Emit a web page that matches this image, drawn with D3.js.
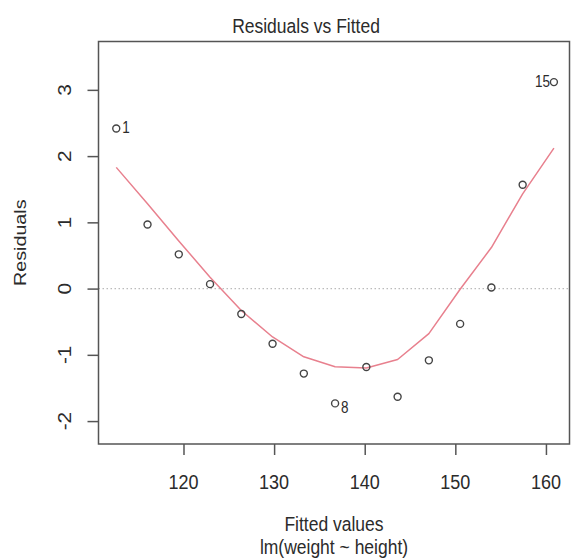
<!DOCTYPE html>
<html>
<head>
<meta charset="utf-8">
<script src="https://cdn.jsdelivr.net/npm/d3@7"></script>
<style>
  body { margin: 0; background: #fff; }
  text { font-family: "Liberation Sans", Arial, sans-serif; fill: #2b2b2b; }
</style>
</head>
<body>
<svg id="chart" width="571" height="560"></svg>
<script>
// women data: lm(weight ~ height)
const fitted = [112.58, 116.03, 119.48, 122.93, 126.38, 129.83, 133.28, 136.73,
                140.18, 143.63, 147.08, 150.53, 153.98, 157.43, 160.88];
const residuals = [2.417, 0.967, 0.517, 0.067, -0.383, -0.833, -1.283, -1.733,
                   -1.183, -1.633, -1.083, -0.533, 0.017, 1.567, 3.117];
// smoother
const smooth = [1.83, 1.28, 0.72, 0.17, -0.33, -0.73, -1.03, -1.18,
                -1.20, -1.07, -0.68, -0.01, 0.62, 1.43, 2.12];
const labelled = [0, 7, 14];   // obs 1, 8, 15
const xTicks = [120, 130, 140, 150, 160];
const yTicks = [-2, -1, 0, 1, 2, 3];

const svg = d3.select("#chart");
const box = { left: 98.5, right: 569.5, top: 41.5, bottom: 444 };
const stretch = 1.16;   // text in the picture is a bit taller than wide

const x = d3.scaleLinear().domain([110.62, 162.6]).range([box.left, box.right]);
const y = d3.scaleLinear().domain([-2.346, 3.73]).range([box.bottom, box.top]);

function addText(px, py, str, size, anchor, rot) {
    let t = `translate(${px},${py}) scale(1,${stretch})` + (rot ? " rotate(-90)" : "");
    return svg.append("text")
        .attr("transform", t)
        .attr("text-anchor", anchor)
        .attr("font-size", size)
        .text(str);
}

// zero line
svg.append("line")
    .attr("x1", box.left).attr("x2", box.right)
    .attr("y1", y(0)).attr("y2", y(0))
    .attr("stroke", "#bbb")
    .attr("stroke-width", 1.2)
    .attr("stroke-dasharray", "1.5,2.5");

// frame
svg.append("rect")
    .attr("x", box.left).attr("y", box.top)
    .attr("width", box.right - box.left)
    .attr("height", box.bottom - box.top)
    .attr("fill", "none")
    .attr("stroke", "#555")
    .attr("stroke-width", 1.5);

// axes
const bottomAxis = d3.axisBottom(x).tickValues(xTicks).tickSize(11).tickFormat("");
svg.append("g")
    .attr("transform", `translate(0,${box.bottom})`)
    .call(bottomAxis)
    .call(g => g.select(".domain").remove())
    .call(g => g.selectAll("line").attr("stroke", "#555").attr("stroke-width", 1.5));

const leftAxis = d3.axisLeft(y).tickValues(yTicks).tickSize(11).tickFormat("");
svg.append("g")
    .attr("transform", `translate(${box.left},0)`)
    .call(leftAxis)
    .call(g => g.select(".domain").remove())
    .call(g => g.selectAll("line").attr("stroke", "#555").attr("stroke-width", 1.5));

xTicks.forEach(d => addText(x(d), 488.5, d, 18, "middle", false));
yTicks.forEach(d => addText(71, y(d), d, 18, "middle", true));

// smoother (lowess is a polyline)
const lineGen = d3.line()
    .x((d, i) => x(fitted[i]))
    .y(d => y(d));
svg.append("path")
    .datum(smooth)
    .attr("fill", "none")
    .attr("stroke", "#e8808e")
    .attr("stroke-width", 1.5)
    .attr("stroke-linejoin", "round")
    .attr("d", lineGen);

// points
svg.selectAll("circle.pt")
    .data(fitted)
    .join("circle")
    .attr("class", "pt")
    .attr("cx", d => x(d))
    .attr("cy", (d, i) => y(residuals[i]))
    .attr("r", 3.5)
    .attr("fill", "none")
    .attr("stroke", "#444")
    .attr("stroke-width", 1.4);

// point ids
labelled.forEach(i => {
    let right = fitted[i] < 137;
    let dy = i === 7 ? 10 : 5;
    addText(x(fitted[i]) + (right ? 6 : -4), y(residuals[i]) + dy, i + 1, 13.5,
        right ? "start" : "end", false);
});

// titles
addText(306, 33, "Residuals vs Fitted", 17.5, "middle", false);
addText(334, 531, "Fitted values", 17.5, "middle", false);
addText(334, 554, "lm(weight ~ height)", 17.5, "middle", false);
addText(26, (box.top + box.bottom) / 2, "Residuals", 17, "middle", true);
</script>
</body>
</html>
